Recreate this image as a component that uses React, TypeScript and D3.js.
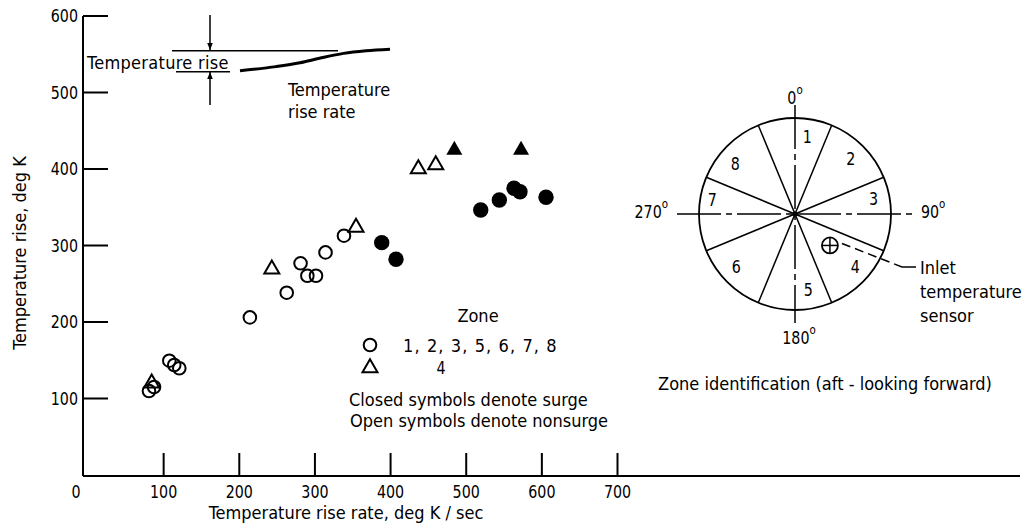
import React from 'react';
import * as d3 from 'd3';

const W = 1026;
const H = 529;
const FONT = "'DejaVu Sans Condensed', 'DejaVu Sans', sans-serif";
const FS = 18;
const NUM_SX = 0.88;

// Tick values
const xTicks = [100, 200, 300, 400, 500, 600, 700];
const yTicks = [100, 200, 300, 400, 500, 600];

// Zones 1,2,3,5,6,7,8 - open circles (nonsurge)
const openCircleX = [80.6, 87.3, 107.5, 114, 120.7, 214, 262.7, 281, 290, 301.4, 314, 338.4];
const openCircleY = [109.8, 115, 149.4, 143.8, 139.5, 206, 238.3, 276.7, 260.5, 260.5, 291, 312.8];
// Zone 4 - open triangles (nonsurge)
const openTriX = [84.2, 243, 354.3, 436.7, 459.7];
const openTriY = [120, 269, 323.8, 400, 405.2];
// Zones 1,2,3,5,6,7,8 - closed circles (surge)
const closedCircleX = [388.3, 407.2, 519.2, 543.8, 563.2, 571.1, 605.5];
const closedCircleY = [303.7, 282, 346.4, 359.5, 374.8, 370.3, 363];
// Zone 4 - closed triangles (surge)
const closedTriX = [484.3, 572.5];
const closedTriY = [424.8, 424.8];

// Zone diagram
const zoneNames = ['1', '2', '3', '4', '5', '6', '7', '8'];
const zoneLabelAngles = [9, 45, 79, 131, 170, 228, 280, 310];
const zoneLabelRadii = [78, 79, 80, 80, 77, 79, 84, 78];
const boundaryAngles = [22.5, 67.5, 112.5, 157.5];
const sensorAngle = 132;
const sensorRadius = 47;

// Inset schematic curve (normalized)
const insetCurveX = [0, 0.24, 0.4, 0.53, 0.69, 0.84, 1];
const insetCurveY = [0, 0.19, 0.37, 0.58, 0.81, 0.93, 1];

const x = d3.scaleLinear().domain([0, 700]).range([88, 617.5]);
const y = d3.scaleLinear().domain([0, 600]).range([475, 16]);

const axisX0 = 83;
const axisY0 = 476;

function triPath(cx: number, cy: number, w = 15, h = 13) {
  return `M${cx},${cy - (2 * h) / 3}L${cx + w / 2},${cy + h / 3}L${cx - w / 2},${cy + h / 3}Z`;
}

function Num({ x, y, anchor = 'middle', children }: { x: number; y: number; anchor?: string; children: React.ReactNode }) {
  return (
    <text transform={`translate(${x},${y}) scale(${NUM_SX},1)`} textAnchor={anchor as any} dominantBaseline="central" fontSize={FS}>
      {children}
    </text>
  );
}

function Sup({ base, sup }: { base: string; sup: string }) {
  return (
    <>
      {base}
      <tspan fontSize={13} dy={-8}>{sup}</tspan>
    </>
  );
}

export default function App() {
  const cx = 795, cy = 214, R = 96;
  const polar = (ang: number, r: number): [number, number] => [
    cx + r * Math.sin((ang * Math.PI) / 180),
    cy - r * Math.cos((ang * Math.PI) / 180),
  ];
  const [sx, sy] = polar(sensorAngle, sensorRadius);

  const ix = d3.scaleLinear().domain([0, 1]).range([240, 390]);
  const iy = d3.scaleLinear().domain([0, 1]).range([70.7, 49.3]);
  const insetLine = d3.line<number>()
    .x((d, i) => ix(insetCurveX[i]))
    .y((d, i) => iy(insetCurveY[i]))
    .curve(d3.curveMonotoneX);

  return (
    <svg width={W} height={H} style={{ display: 'block', position: 'absolute', left: 0, top: 0 }}
      fontFamily={FONT} fill="#000">
      <rect width={W} height={H} fill="#fff" />
      <defs>
        <marker id="arr" viewBox="0 0 10 10" refX="10" refY="5" markerWidth="7" markerHeight="8" orient="auto-start-reverse" markerUnits="userSpaceOnUse">
          <path d="M0,1L10,5L0,9Z" fill="#000" />
        </marker>
      </defs>

      {/* Axes */}
      <line x1={axisX0} y1={y(600)} x2={axisX0} y2={axisY0} stroke="#000" strokeWidth={2} />
      <line x1={axisX0} y1={axisY0} x2={1020} y2={axisY0} stroke="#000" strokeWidth={2} />
      {yTicks.map((t) => (
        <g key={'yt' + t}>
          <line x1={axisX0} x2={axisX0 + 25} y1={y(t)} y2={y(t)} stroke="#000" strokeWidth={2} />
          <Num x={axisX0 - 5} y={y(t)} anchor="end">{t}</Num>
        </g>
      ))}
      {xTicks.map((t) => (
        <g key={'xt' + t}>
          <line x1={x(t)} x2={x(t)} y1={axisY0} y2={axisY0 - 23} stroke="#000" strokeWidth={2} />
          <Num x={x(t)} y={492}>{t}</Num>
        </g>
      ))}
      <Num x={axisX0 - 7} y={492}>0</Num>

      <text x={346} y={512} textAnchor="middle" dominantBaseline="central" fontSize={FS}>Temperature rise rate, deg K / sec</text>
      <text transform="translate(19,253) rotate(-90)" textAnchor="middle" dominantBaseline="central" fontSize={FS}>Temperature rise, deg K</text>

      {/* Data */}
      {openCircleX.map((v, i) => (
        <circle key={'oc' + i} cx={x(v)} cy={y(openCircleY[i])} r={6.3} fill="none" stroke="#000" strokeWidth={2} />
      ))}
      {openTriX.map((v, i) => (
        <path key={'ot' + i} d={triPath(x(v), y(openTriY[i]))} fill="none" stroke="#000" strokeWidth={2} />
      ))}
      {closedCircleX.map((v, i) => (
        <circle key={'cc' + i} cx={x(v)} cy={y(closedCircleY[i])} r={7.7} fill="#000" />
      ))}
      {closedTriX.map((v, i) => (
        <path key={'ct' + i} d={triPath(x(v), y(closedTriY[i]), 16, 14)} fill="#000" />
      ))}

      {/* Inset schematic */}
      <text x={87} y={62} dominantBaseline="central" fontSize={FS} letterSpacing={0.3}>Temperature rise</text>
      <line x1={172} x2={338} y1={50.7} y2={50.7} stroke="#000" strokeWidth={1.5} />
      <line x1={176} x2={230} y1={71.7} y2={71.7} stroke="#000" strokeWidth={1.5} />
      <path d={insetLine(insetCurveX) || ''} fill="none" stroke="#000" strokeWidth={3} />
      <line x1={210} x2={210} y1={15} y2={50} stroke="#000" strokeWidth={1.5} markerEnd="url(#arr)" />
      <line x1={210} x2={210} y1={105} y2={72} stroke="#000" strokeWidth={1.5} markerEnd="url(#arr)" />
      <text x={288} y={89} dominantBaseline="central" fontSize={FS}>Temperature</text>
      <text x={288} y={111} dominantBaseline="central" fontSize={FS}>rise rate</text>

      {/* Legend */}
      <text x={478} y={315} textAnchor="middle" dominantBaseline="central" fontSize={FS}>Zone</text>
      <circle cx={370} cy={345} r={6.3} fill="none" stroke="#000" strokeWidth={2} />
      <text x={403} y={345} dominantBaseline="central" fontSize={FS} letterSpacing={1.1}>1, 2, 3, 5, 6, 7, 8</text>
      <path d={triPath(370, 368)} fill="none" stroke="#000" strokeWidth={2} />
      <Num x={441} y={368}>4</Num>
      <text x={349} y={399} dominantBaseline="central" fontSize={FS}>Closed symbols denote surge</text>
      <text x={350} y={420} dominantBaseline="central" fontSize={FS}>Open symbols denote nonsurge</text>

      {/* Zone diagram */}
      <circle cx={cx} cy={cy} r={R} fill="none" stroke="#000" strokeWidth={1.8} />
      {boundaryAngles.map((a) => {
        const [x1, y1] = polar(a, R);
        const [x2, y2] = polar(a + 180, R);
        return <line key={'b' + a} x1={x1} y1={y1} x2={x2} y2={y2} stroke="#000" strokeWidth={1.5} />;
      })}
      <line x1={677} x2={913} y1={cy} y2={cy} stroke="#000" strokeWidth={1.5} strokeDasharray="44,5,6,5" />
      <line x1={cx} x2={cx} y1={105} y2={323} stroke="#000" strokeWidth={1.5} strokeDasharray="44,5,6,5" />
      <circle cx={cx} cy={cy} r={2.5} fill="#000" />
      {zoneNames.map((z, i) => {
        const [lx, ly] = polar(zoneLabelAngles[i], zoneLabelRadii[i]);
        return <Num key={'z' + z} x={lx} y={ly}>{z}</Num>;
      })}
      <Num x={cx} y={98}><Sup base="0" sup="o" /></Num>
      <Num x={921} y={212} anchor="start"><Sup base="90" sup="o" /></Num>
      <Num x={668} y={212} anchor="end"><Sup base="270" sup="o" /></Num>
      <Num x={cx + 4} y={338}><Sup base="180" sup="o" /></Num>

      <circle cx={sx} cy={sy} r={8} fill="#fff" stroke="#000" strokeWidth={1.8} />
      <line x1={sx - 8} x2={sx + 8} y1={sy} y2={sy} stroke="#000" strokeWidth={1.5} />
      <line x1={sx} x2={sx} y1={sy - 8} y2={sy + 8} stroke="#000" strokeWidth={1.5} />
      <line x1={sx + 12} y1={sy - 2} x2={902} y2={267} stroke="#000" strokeWidth={1.5} strokeDasharray="9,5" />
      <line x1={902} y1={267} x2={916} y2={267} stroke="#000" strokeWidth={1.5} />
      <text x={920} y={267} dominantBaseline="central" fontSize={FS}>Inlet</text>
      <text x={920} y={291} dominantBaseline="central" fontSize={FS}>temperature</text>
      <text x={920} y={315} dominantBaseline="central" fontSize={FS}>sensor</text>

      <text x={825} y={383} textAnchor="middle" dominantBaseline="central" fontSize={FS}>Zone identification (aft - looking forward)</text>
    </svg>
  );
}
